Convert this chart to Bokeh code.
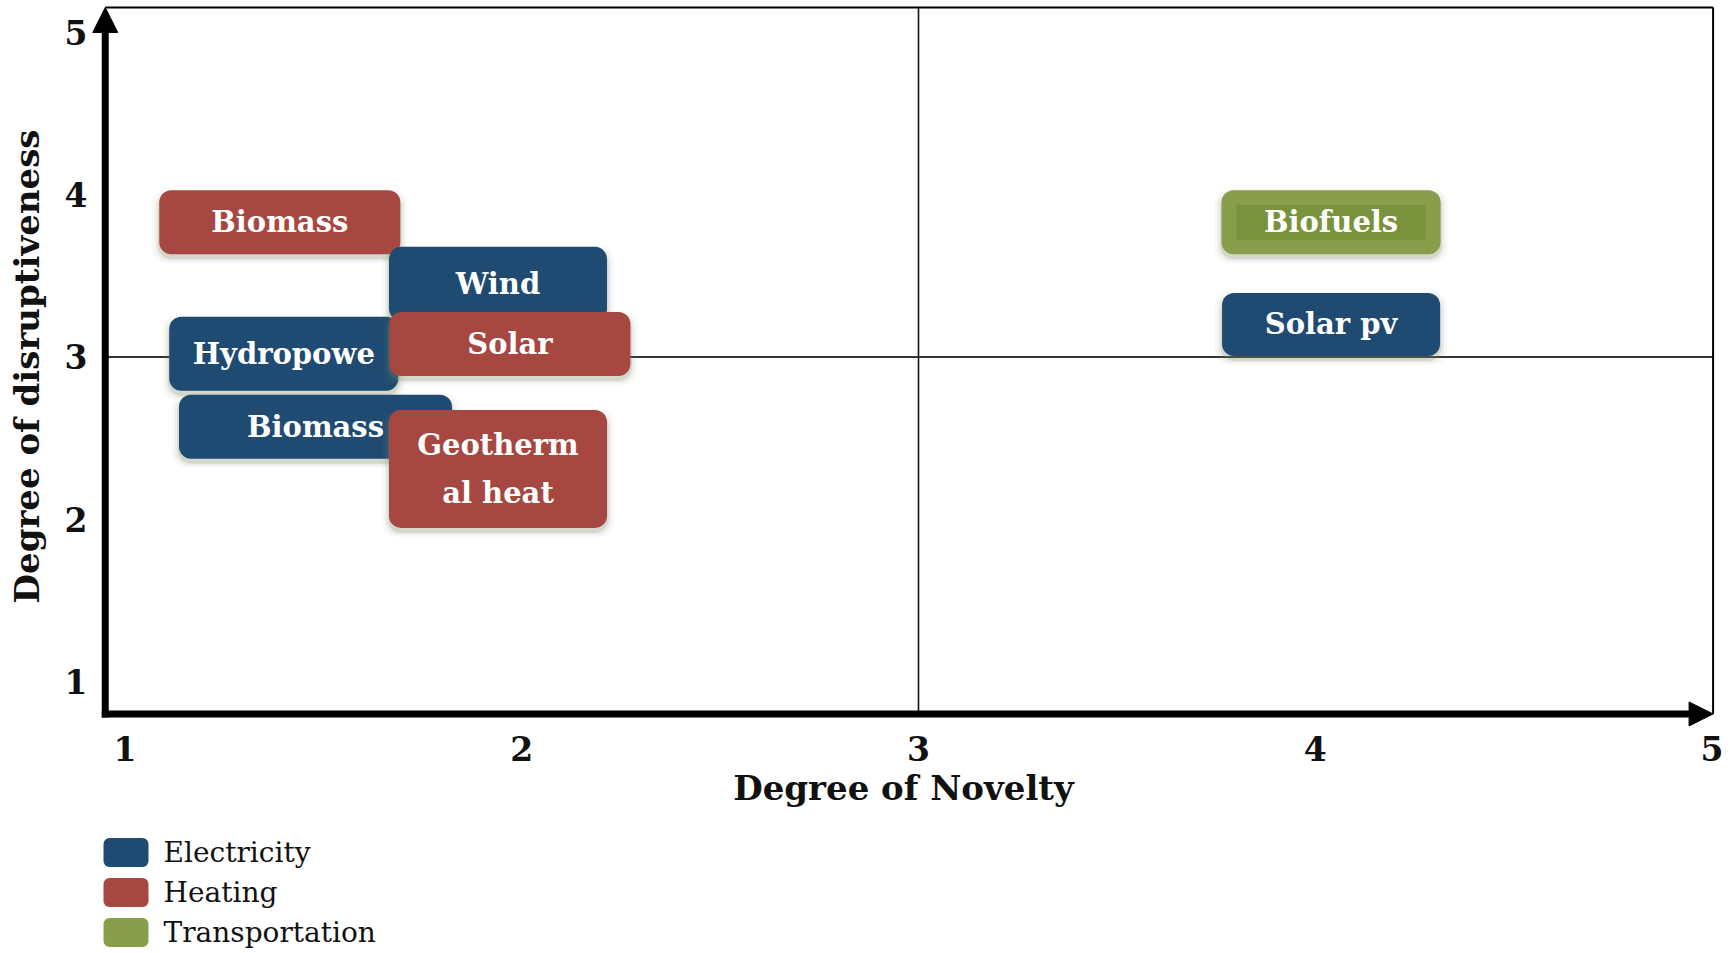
from bokeh.plotting import figure
from bokeh.layouts import column
from bokeh.models import (Arrow, NormalHead, FixedTicker, ColumnDataSource,
                          CDSView, IndexFilter, Range1d, FactorRange)
from bokeh.transform import dodge
from bokeh.core.properties import value
from bokeh.embed import file_html
from bokeh.resources import INLINE

# ---------------- data ----------------
names = ["Biomass", "Wind", "Hydropowe", "Biomass", "Solar",
         "Geotherm\nal heat", "Biofuels", "Solar pv"]
sectors = ["Heating", "Electricity", "Electricity", "Electricity", "Heating",
           "Heating", "Transportation", "Electricity"]
novelty = [1.39, 1.94, 1.40, 1.48, 1.97, 1.94, 4.04, 4.04]
disruptiveness = [3.83, 3.45, 3.02, 2.57, 3.08, 2.31, 3.83, 3.20]

x_ticks = [1, 2, 3, 4, 5]
y_ticks = [1, 2, 3, 4, 5]
divider_x = 3
divider_y = 3
legend_labels = ["Electricity", "Heating", "Transportation"]

# axes cross / end (chart layout, in axis units)
axis_origin_x = 0.95
axis_origin_y = 0.80
axis_end_x = 5.003
axis_end_y = 5.153

# ---------------- styles ----------------
colors = {"Electricity": "#1F4A72", "Heating": "#A64741", "Transportation": "#899E4A"}
inner_green = "#78933C"
box_w_px = [241, 218, 229, 273, 241, 218, 219, 218]
box_h_px = [64, 74, 74, 64, 64, 118, 64, 63]
SERIF = "DejaVu Serif"
BORDER_L, BORDER_R = 90, 14

src = ColumnDataSource(dict(name=names, sector=sectors, x=novelty, y=disruptiveness,
                            color=[colors[s] for s in sectors]))

p = figure(width=1730, height=832, output_backend="svg", toolbar_location=None,
           x_range=Range1d(0.9128, 5.0116), y_range=Range1d(0.7104, 5.1713),
           min_border_left=BORDER_L, min_border_right=BORDER_R, min_border_top=4,
           min_border_bottom=104)
p.background_fill_color = "white"
p.border_fill_color = "white"
p.grid.visible = False
p.outline_line_color = None

for ax, ticks in ((p.xaxis, x_ticks), (p.yaxis, y_ticks)):
    ax.ticker = FixedTicker(ticks=ticks)
    ax.axis_line_color = None
    ax.major_tick_line_color = None
    ax.minor_tick_line_color = None
    ax.major_tick_out = 0
    ax.major_tick_in = 0
    ax.major_label_text_font = SERIF
    ax.major_label_text_font_style = "bold"
    ax.major_label_text_font_size = "33px"
    ax.major_label_text_color = "#111111"
    ax.axis_label_text_font = SERIF
    ax.axis_label_text_font_style = "bold"
    ax.axis_label_text_font_size = "34px"
    ax.axis_label_text_color = "#111111"

p.xaxis.axis_label = "Degree of Novelty"
p.yaxis.axis_label = "Degree of disruptiveness"
p.xaxis.major_label_standoff = 7
p.xaxis.axis_label_standoff = 4
p.yaxis.major_label_standoff = 3
p.yaxis.axis_label_standoff = 15

# quadrant dividers (drawn first, so they sit behind the boxes)
p.segment(x0=[divider_x, axis_origin_x], y0=[axis_origin_y, divider_y],
          x1=[divider_x, axis_end_x], y1=[axis_end_y, divider_y],
          line_color=["#111111", "#333333"], line_width=[1.6, 2])

# top and right border of the chart area
p.segment(x0=[axis_origin_x, axis_end_x], y0=[axis_end_y, axis_end_y],
          x1=[axis_end_x, axis_end_x], y1=[axis_end_y, axis_origin_y],
          line_color="black", line_width=2)

# thick axes with arrow heads
head_gap_x = 12 / 396.7
head_gap_y = 12 / 162.3
p.segment(x0=[axis_origin_x, axis_origin_x], y0=[axis_origin_y, axis_origin_y],
          x1=[axis_origin_x, axis_end_x - head_gap_x],
          y1=[axis_end_y - head_gap_y, axis_origin_y],
          line_color="black", line_width=7, line_cap="square")
p.add_layout(Arrow(x_start=axis_origin_x, y_start=axis_origin_y, x_end=axis_origin_x,
                   y_end=axis_end_y, line_color=None,
                   end=NormalHead(size=25, fill_color="black", line_color="black")))
p.add_layout(Arrow(x_start=axis_origin_x, y_start=axis_origin_y, x_end=axis_end_x,
                   y_end=axis_origin_y, line_color=None,
                   end=NormalHead(size=24, fill_color="black", line_color="black")))

shadow_dy = 0.025
for i in range(len(names)):
    view = CDSView(filter=IndexFilter([i]))
    w, h = box_w_px[i], box_h_px[i]
    for grow, alpha in ((14, 0.05), (8, 0.10), (3, 0.22)):
        p.rect(x="x", y=dodge("y", -shadow_dy, range=p.y_range), width=w + grow,
               height=h + grow * 0.7, width_units="screen", height_units="screen",
               fill_color="#7E876A", fill_alpha=alpha, line_color=None,
               border_radius=14, source=src, view=view)
    p.rect(x="x", y="y", width=w, height=h, width_units="screen", height_units="screen",
           fill_color="color", line_color=None, border_radius=12, source=src, view=view)
    if sectors[i] == "Transportation":
        p.rect(x="x", y="y", width=w - 30, height=h - 29, width_units="screen",
               height_units="screen", fill_color=inner_green, line_color=None,
               source=src, view=view)
    p.text(x="x", y="y", text="name", source=src, view=view,
           text_font=value(SERIF), text_font_style="bold", text_font_size="29px",
           text_color="white", text_align="center", text_baseline="middle",
           text_line_height=1.4)

# ---------------- legend strip below the chart ----------------
# x range of the strip is expressed in page pixels so that it lines up with the chart
legend_swatch_x = 125.5
legend_text_x = 163
lg = figure(width=1730, height=120, output_backend="svg", toolbar_location=None,
            x_range=Range1d(BORDER_L, 1730 - BORDER_R),
            y_range=FactorRange(factors=list(reversed(legend_labels)), range_padding=0),
            min_border_left=BORDER_L, min_border_right=BORDER_R,
            min_border_top=0, min_border_bottom=0)
lg.axis.visible = False
lg.grid.visible = False
lg.outline_line_color = None
lg.background_fill_color = "white"
lg.border_fill_color = "white"
lsrc = ColumnDataSource(dict(label=legend_labels,
                             color=[colors[l] for l in legend_labels]))
lg.rect(x=legend_swatch_x, y="label", width=45, height=29, width_units="screen",
        height_units="screen", fill_color="color", line_color=None, border_radius=6,
        source=lsrc)
lg.text(x=legend_text_x, y="label", text="label", source=lsrc,
        text_font=value(SERIF), text_font_size="28px", text_color="#111111",
        text_align="left", text_baseline="middle")

layout = column(p, lg, spacing=0)
open("out.html", "w").write(file_html(layout, INLINE))
